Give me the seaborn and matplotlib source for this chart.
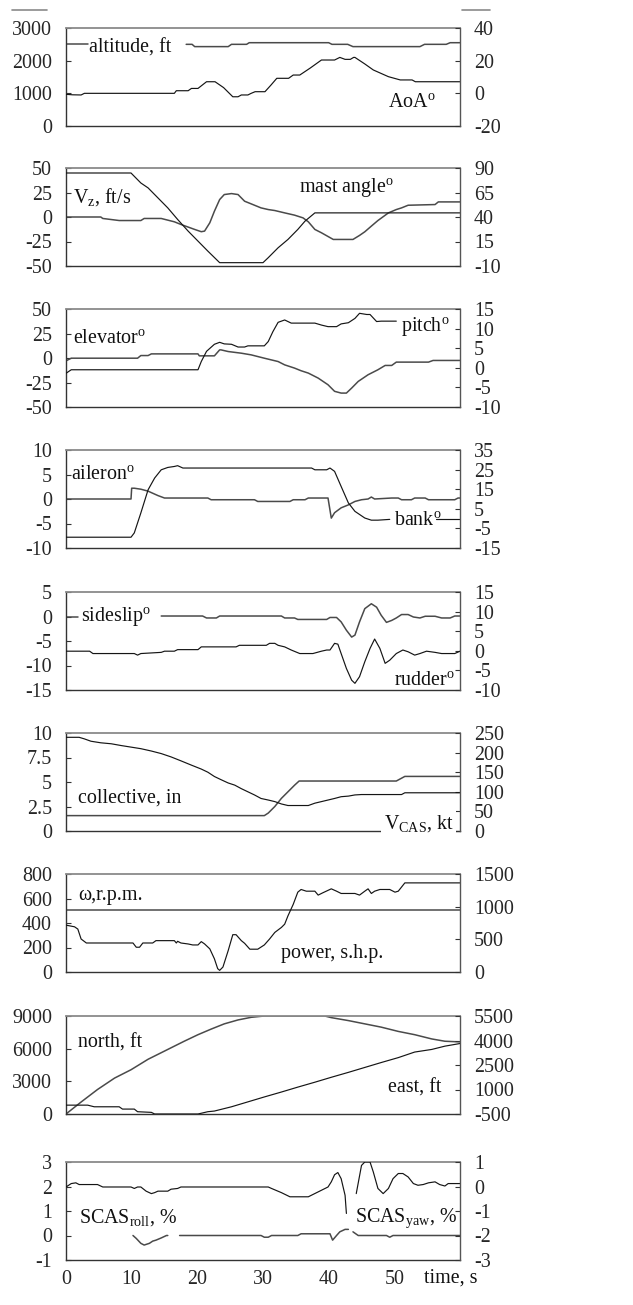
import numpy as np
import pandas as pd
import matplotlib
matplotlib.use("Agg")
import matplotlib.pyplot as plt
import seaborn as sns
from matplotlib.lines import Line2D
from matplotlib.ticker import MultipleLocator, FuncFormatter

nan = np.nan

# ---------------- data (time in s) ----------------
# panel 1
alt_t = [0, 3.3, 3.4, 18.3, 19.2, 19.6, 24.7, 25.2, 27.5, 27.9, 40.0, 40.5, 42.9, 43.7, 53.9, 54.6, 57.9, 58.5, 60]
alt_v = [2500, 2500, nan, 2500, 2500, 2430, 2430, 2500, 2500, 2550, 2550, 2500, 2500, 2430, 2430, 2500, 2500, 2550, 2550]
aoa_t = [0, 1.0, 2.3, 2.8, 16.5, 16.8, 18.6, 19.1, 20.1, 21.4, 22.7, 24.0, 25.4, 26.2, 26.7, 27.7, 28.2, 28.8,
         30.3, 31.2, 32.1, 33.9, 34.6, 35.6, 37.2, 38.9, 40.9, 41.7, 42.5, 43.3, 43.8, 44.0, 45.5, 46.8, 49.1,
         50.9, 52.7, 53.2, 60]
aoa_v = [-0.6, -0.9, -1, 0, 0, 1.6, 1.6, 3, 3, 7.1, 7.1, 3.5, -2.1, -2.1, -1, -1, 0, 1.0,
         1.0, 5, 9.2, 9.2, 11.2, 11.2, 15.5, 20.4, 20.4, 22, 20.8, 20.8, 22, 22, 18, 14.3, 10.2,
         8.2, 8.2, 7.1, 7.1]
# panel 2
vz_t = [0, 5.3, 5.6, 8.1, 11.4, 11.9, 14.5, 16.5, 17.5, 19.6, 20.6, 21.1, 21.9, 22.6, 23.4, 24.1, 25.2, 26.2,
        27.2, 28.2, 29.7, 30.8, 31.8, 33.3, 34.8, 36.1, 36.9, 37.9, 38.9, 40.7, 43.7, 44.7, 45.5, 46.5, 47.5,
        49.1, 50.3, 51.1, 52.1, 56.2, 56.7, 60]
vz_v = [0, 0, -1.5, -3.6, -3.6, -1.5, -1.5, -4.9, -7.6, -12.7, -15, -14.4, -5.9, 5.9, 17.8, 22.9, 23.9, 22.9,
        16.1, 13.4, 9.3, 7.6, 6.6, 4.2, 1.9, -0.9, -4.9, -12.7, -16.1, -22.9, -22.9, -18.8, -15.1, -9.3, -3.6,
        4.2, 7.6, 9.3, 12, 12.7, 15.4, 15.4]
mast_t = [0, 9.9, 10.4, 11.4, 12.5, 14.0, 15.5, 17.0, 18.6, 20.1, 21.6, 23.4, 30.0, 30.8, 32.3, 33.8, 35.3, 36.4, 37.9, 60]
mast_v = [84.9, 84.9, 81.5, 74.7, 69.7, 59.5, 49.3, 37.5, 25.6, 15.4, 5.2, -6.6, -6.6, -1.5, 8.6, 17.1, 27.3, 35.8, 44.2, 44.2]
# panel 3
elev_t = [0, 0.8, 10.9, 11.4, 12.5, 13.0, 20.1, 20.3, 22.6, 23.4, 23.6, 24.7, 26.7, 28.2, 30.2, 32.3, 33.3, 34.8,
          35.8, 36.9, 38.4, 39.9, 40.9, 41.9, 42.7, 43.5, 44.5, 46.0, 47.5, 48.6, 49.6, 50.3, 55.2, 55.9, 60]
elev_v = [-2.9, -0.2, -0.2, 2.5, 2.5, 4.2, 4.2, 2.2, 2.2, 8.3, 8.3, 6.6, 4.9, 3.2, -0.2, -3.6, -7, -10.3,
          -13, -15.4, -20.5, -27.3, -34, -35.8, -35.8, -30.7, -23.9, -17.1, -12, -7.6, -7.6, -4.2, -4.2, -2.5, -2.5]
pitch_t = [0, 0.8, 20.1, 20.6, 21.4, 22.6, 23.4, 24.1, 25.2, 26.2, 27.2, 27.7, 30.2, 30.8, 31.5, 32.3, 33.3, 34.3,
           37.9, 38.9, 39.9, 41.2, 41.9, 43.0, 44.0, 44.7, 45.8, 46.3, 47.3, 48.0, 50.3]
pitch_v = [-1.4, -0.5, -0.5, 1.6, 4.2, 6.0, 6.5, 6.1, 6.0, 5.3, 5.3, 5.6, 5.6, 6.7, 9.2, 11.6, 12.2, 11.4,
           11.4, 10.9, 10.5, 10.5, 11.2, 11.5, 12.6, 13.9, 13.6, 13.6, 11.8, 11.9, 11.9]
# panel 4
ail_t = [0, 9.9, 10.0, 10.4, 11.4, 12.5, 14.0, 15.0, 21.6, 22.1, 28.7, 29.2, 34.1, 34.6, 36.4, 36.9, 39.9, 40.4,
         40.9, 41.9, 43.0, 44.0, 45.0, 46.0, 46.5, 47.0, 49.6, 50.6, 51.1, 52.6, 53.1, 54.7, 55.2, 59.2, 59.7, 60]
ail_v = [0, 0, 2.2, 2.2, 2.0, 1.6, 0.7, 0.2, 0.2, -0.15, -0.15, -0.5, -0.5, -0.15, -0.15, 0.2, 0.2, -3.9,
         -2.8, -1.8, -1.2, -0.5, -0.15, 0, 0.4, 0, 0.2, 0.2, -0.15, -0.15, 0.2, 0.2, -0.15, -0.15, 0.2, 0.2]
bank_t = [0, 9.9, 10.4, 11.4, 12.5, 13.5, 14.5, 15.5, 16.5, 17.0, 17.8, 37.4, 37.9, 39.7, 40.2, 40.9, 41.9, 43.0,
          44.0, 45.5, 46.5, 47.5, 49.3, 52.0, 56.4, 60]
bank_v = [-9.5, -9.5, -7.3, 2.9, 14.7, 20.7, 24.9, 26.1, 26.6, 27.0, 25.8, 25.8, 24.9, 24.9, 25.8, 24.1, 16.4, 8.0,
          3.7, 0.3, -0.8, -0.8, -0.4, nan, -0.2, -0.2]
# panel 5
slip_t = [0, 1.8, 8.0, 14.5, 20.8, 21.4, 22.9, 23.4, 32.8, 33.3, 34.8, 35.3, 39.7, 40.2, 41.2, 41.9, 42.7, 43.5,
          44.0, 44.7, 45.5, 46.5, 47.3, 48.0, 48.8, 49.6, 50.3, 51.1, 52.1, 52.9, 53.9, 54.7, 56.2, 57.2, 58.5, 59.2, 60]
slip_v = [-0.1, -0.1, nan, 0.1, 0.1, -0.3, -0.3, 0.1, 0.1, -0.3, -0.3, -0.6, -0.6, -0.2, -0.2, -1.1, -2.8, -4.2,
          -3.8, -1.1, 1.6, 2.6, 1.9, 0.25, -1.2, -0.8, -0.3, 0.4, 0.4, -0.1, -0.3, 0.05, 0.05, -0.3, -0.3, 0.1, 0.1]
rud_t = [0, 3.6, 4.1, 10.4, 10.9, 11.4, 14.5, 15.0, 16.5, 17.0, 20.1, 20.6, 25.9, 26.4, 30.5, 31.0, 31.8, 32.3,
         33.3, 34.3, 35.6, 37.6, 38.9, 39.7, 40.2, 40.9, 41.4, 41.9, 42.7, 43.5, 44.0, 44.7, 45.5, 46.3, 47.0,
         47.8, 48.6, 49.3, 50.3, 51.3, 52.1, 53.1, 53.9, 54.9, 56.2, 57.2, 59.2, 60]
rud_v = [-0.1, -0.1, -0.7, -0.7, -1.1, -0.7, -0.4, -0.1, -0.1, 0.3, 0.3, 1.0, 1.0, 1.4, 1.4, 1.9, 1.9, 1.4,
         1.0, 0.2, -0.7, -0.7, -0.1, 0.2, 0.2, 1.9, 1.7, -0.7, -4.5, -7.5, -8.3, -6.6, -2.8, 0.6, 3.0,
         0.6, -3.2, -2.4, -0.7, 0.2, -0.25, -1.1, -0.7, -0.1, -0.4, -0.7, -0.7, -0.1]
# panel 6
coll_t = [0, 30.2, 30.8, 31.8, 32.8, 33.8, 34.8, 35.5, 50.3, 51.6, 60]
coll_v = [1.57, 1.57, 1.83, 2.5, 3.33, 4.0, 4.67, 5.1, 5.1, 5.57, 5.57]
vcas_t = [0, 2.0, 2.8, 3.8, 5.3, 6.9, 8.4, 9.9, 11.4, 13.0, 14.5, 16.0, 17.5, 19.1, 20.6, 21.6, 22.6, 23.6, 24.7,
          25.7, 26.7, 27.7, 28.7, 29.7, 30.8, 31.8, 32.8, 33.8, 34.8, 36.9, 37.9, 38.9, 39.9, 40.9, 41.9, 43.0,
          44.0, 45.0, 51.1, 51.6, 60]
vcas_v = [239, 239, 235, 229, 225, 222.5, 218, 214, 210, 204, 197.5, 189, 179, 168, 158, 150, 139, 131, 122.5,
          117, 108, 100, 92, 83, 79, 75, 69, 65, 65, 65, 71, 75, 79, 83, 87.5, 89,
          92, 93, 93, 97.5, 97.5]
# panel 7
omega_t = [0, 60]
omega_v = [510, 510]
pow_t = [0, 1.3, 1.8, 2.3, 3.1, 10.2, 10.7, 11.2, 11.7, 13.2, 13.7, 16.5, 16.8, 17.0, 17.5, 18.6, 19.3, 20.1, 20.6,
         21.1, 21.9, 22.6, 23.1, 23.4, 23.9, 24.7, 25.4, 25.9, 26.7, 27.2, 28.0, 29.2, 30.2, 31.0, 31.8, 32.8,
         33.3, 33.8, 34.6, 35.3, 35.8, 36.6, 37.9, 38.4, 39.1, 40.4, 41.2, 41.9, 44.0, 44.7, 45.5, 46.0, 46.5,
         47.0, 47.8, 49.3, 50.1, 50.6, 51.6, 60]
pow_v = [717, 692, 657, 505, 444, 444, 379, 379, 444, 444, 480, 480, 444, 470, 444, 429, 414, 414, 465,
         430, 354, 202, 51, 25, 76, 328, 571, 571, 480, 439, 349, 349, 414, 505, 606, 682,
         732, 859, 1035, 1222, 1263, 1237, 1237, 1177, 1212, 1273, 1237, 1202, 1202, 1177, 1237, 1273, 1202,
         1237, 1263, 1263, 1222, 1237, 1364, 1364]
# panel 8
north_t = [0, 2.3, 4.8, 7.4, 9.9, 12.5, 15.0, 16.5, 18.0, 20.1, 22.1, 24.1, 26.2, 28.2, 30.2, 39.4, 40.4, 43.0,
           45.5, 48.0, 50.6, 53.1, 55.7, 57.7, 60]
north_v = [0, 1100, 2250, 3300, 4064, 5027, 5779, 6231, 6682, 7284, 7796, 8278, 8639, 8880, 9000, 9000, 8850, 8579,
           8278, 7977, 7585, 7284, 6893, 6682, 6622]
east_t = [0, 3.3, 4.3, 8.1, 8.6, 10.4, 10.9, 13.0, 13.5, 20.1, 21.6, 22.6, 25.2, 27.7, 30.2, 32.8, 35.3, 37.9,
          40.4, 43.0, 45.5, 48.0, 50.6, 53.1, 55.7, 57.7, 60]
east_v = [42, 42, -58, -58, -199, -199, -360, -400, -500, -500, -360, -319, -58, 243, 544, 845, 1146, 1447,
          1748, 2049, 2350, 2651, 2952, 3293, 3453, 3654, 3815]
# panel 9
roll_t = [10.2, 10.7, 11.4, 11.9, 12.7, 13.2, 13.7, 14.5, 15.3, 15.5, 16.4, 17.3, 29.7, 30.2, 30.8, 31.3, 35.3,
          35.8, 40.2, 40.6, 41.2, 41.7, 42.5, 43.0, 43.4, 43.7, 44.5, 48.8, 49.3, 49.8, 60]
roll_v = [0, -0.12, -0.32, -0.39, -0.32, -0.23, -0.19, -0.1, 0, 0, nan, 0, 0, -0.07, -0.07, 0, 0,
          0.07, 0.07, -0.19, 0, 0.15, 0.25, 0.25, nan, 0.15, 0, 0, -0.07, 0, 0]
yaw_t = [0, 0.8, 1.5, 2.0, 4.8, 5.6, 9.9, 10.4, 10.9, 11.4, 12.2, 13.0, 13.5, 14.0, 15.5, 16.0, 17.0, 17.5,
         30.8, 31.3, 32.8, 34.1, 36.9, 38.4, 39.9, 40.4, 40.9, 41.4, 41.9, 42.5, 42.7, 43.5, 44.2, 45.0, 45.5,
         46.3, 46.8, 47.5, 48.3, 49.1, 49.8, 50.6, 51.3, 52.1, 52.9, 53.6, 54.4, 55.2, 56.2, 56.9, 57.7, 58.2, 60]
yaw_v = [-0.02, 0.12, 0.15, 0.08, 0.08, -0.02, -0.02, -0.08, -0.02, -0.02, -0.19, -0.29, -0.25, -0.19, -0.19,
         -0.11, -0.08, -0.02, -0.02, -0.08, -0.25, -0.42, -0.42, -0.22, -0.02, 0.19, 0.48, 0.57, 0.32, -0.36,
         -1.1, nan, -0.29, 0.86, 1.0, 1.0, 0.59, -0.08, -0.29, -0.08, 0.32, 0.53, 0.53, 0.39, 0.12, 0.05, 0.08,
         0.15, 0.19, 0.08, 0.02, 0.12, 0.12]

# axis ranges / ticks
left_ticks = [[0, 1000, 2000, 3000], [-50, -25, 0, 25, 50], [-50, -25, 0, 25, 50], [-10, -5, 0, 5, 10],
              [-15, -10, -5, 0, 5], [0, 2.5, 5, 7.5, 10], [0, 200, 400, 600, 800], [0, 3000, 6000, 9000],
              [-1, 0, 1, 2, 3]]
right_ticks = [[-20, 0, 20, 40], [-10, 15, 40, 65, 90], [-10, -5, 0, 5, 10, 15], [-15, -5, 5, 15, 25, 35],
               [-10, -5, 0, 5, 10, 15], [0, 50, 100, 150, 200, 250], [0, 500, 1000, 1500],
               [-500, 1000, 2500, 4000, 5500], [-3, -2, -1, 0, 1]]
x_ticks = [0, 10, 20, 30, 40, 50, 60]
x_labels = ["0", "10", "20", "30", "40", "50", ""]

panels = [
    (alt_t, alt_v, aoa_t, aoa_v),
    (vz_t, vz_v, mast_t, mast_v),
    (elev_t, elev_v, pitch_t, pitch_v),
    (ail_t, ail_v, bank_t, bank_v),
    (slip_t, slip_v, rud_t, rud_v),
    (coll_t, coll_v, vcas_t, vcas_v),
    (omega_t, omega_v, pow_t, pow_v),
    (north_t, north_v, east_t, east_v),
    (roll_t, roll_v, yaw_t, yaw_v),
]

# labels: (text, t, axes-y, ha, white box)
labels = [
    [("altitude, ft", 3.5, 0.80, False), (r"AoA$^\mathrm{o}$", 49.0, 0.235, False)],
    [(r"V$_\mathrm{z}$, ft/s", 1.0, 0.70, False), (r"mast angle$^\mathrm{o}$", 35.5, 0.80, False)],
    [(r"elevator$^\mathrm{o}$", 1.0, 0.70, False), (r"pitch$^\mathrm{o}$", 51.0, 0.82, False)],
    [(r"aileron$^\mathrm{o}$", 0.8, 0.745, False), (r"bank$^\mathrm{o}$", 50.0, 0.285, False)],
    [(r"sideslip$^\mathrm{o}$", 2.3, 0.745, False), (r"rudder$^\mathrm{o}$", 50.0, 0.10, False)],
    [("collective, in", 1.8, 0.335, False), (r"V$_\mathrm{CAS}$, kt", 48.4, 0.08, True)],
    [(r"ω,r.p.m.", 1.8, 0.785, False), ("power, s.h.p.", 32.7, 0.19, False)],
    [("north, ft", 1.8, 0.72, False), ("east, ft", 49.0, 0.26, False)],
    [(r"SCAS$_\mathrm{roll}$, %", 2.0, 0.43, False), (r"SCAS$_\mathrm{yaw}$, %", 44.0, 0.43, False)],
]

# ---------------- style ----------------
sns.set_style("white")
plt.rcParams["font.family"] = ["Liberation Serif", "DejaVu Serif"]
plt.rcParams["mathtext.fontset"] = "custom"
plt.rcParams["mathtext.rm"] = "Liberation Serif"
plt.rcParams["mathtext.it"] = "Liberation Serif:italic"
plt.rcParams["mathtext.bf"] = "Liberation Serif:bold"
plt.rcParams["axes.unicode_minus"] = False

FS = 14.4
W, H = 633, 1305
fig = plt.figure(figsize=(W / 100, H / 100), dpi=100)
fig.patch.set_facecolor("white")

tops = [28, 168, 309, 450, 592, 733, 874, 1016, 1162]
ph = 98
xl, xr = 66, 460
fmt = FuncFormatter(lambda v, p: f"{v:g}")

LCOL, RCOL = "#4a4a4a", "#151515"
SPC = "#333333"


def seg_frame(t, v):
    t = np.asarray(t, float)
    v = np.asarray(v, float)
    seg = np.cumsum(np.isnan(v))
    df = pd.DataFrame({"t": t, "v": v, "seg": seg})
    return df.dropna()


def draw(ax, t, v, color, lw):
    df = seg_frame(t, v)
    sns.lineplot(data=df, x="t", y="v", units="seg", estimator=None, sort=False,
                 color=color, lw=lw, ax=ax, legend=False)
    ax.set_xlabel("")
    ax.set_ylabel("")


for i, (lt, lv, rt, rv) in enumerate(panels):
    ax = fig.add_axes([xl / W, 1 - (tops[i] + ph) / H, (xr - xl) / W, ph / H])
    ax2 = ax.twinx()
    draw(ax, lt, lv, LCOL, 1.1)
    draw(ax2, rt, rv, RCOL, 0.85)

    ax.set_xlim(0, 60)
    ax.set_ylim(left_ticks[i][0], left_ticks[i][-1])
    ax2.set_ylim(right_ticks[i][0], right_ticks[i][-1])
    ax.set_yticks(left_ticks[i])
    ax2.set_yticks(right_ticks[i])
    ax.yaxis.set_major_formatter(fmt)
    ax2.yaxis.set_major_formatter(fmt)
    ax.set_xticks(x_ticks)
    ax.xaxis.set_minor_locator(MultipleLocator(5))
    if i == len(panels) - 1:
        ax.set_xticklabels(x_labels)
    else:
        ax.set_xticklabels([])

    ax.tick_params(axis="y", direction="in", length=3.5, width=0.8, color=SPC, pad=10, labelsize=FS)
    ax2.tick_params(axis="y", direction="in", length=3.5, width=0.8, color=SPC, pad=10, labelsize=FS)
    ax.tick_params(axis="x", which="both", direction="in", length=4, width=0.8, color=SPC,
                   pad=7, labelsize=FS, top=False)

    for s in ["left", "bottom"]:
        ax.spines[s].set_color(SPC)
        ax.spines[s].set_linewidth(1.0)
    ax.spines["top"].set_color("#8a8a8a")
    ax.spines["top"].set_linewidth(1.3)
    ax.spines["right"].set_visible(False)
    for s in ["left", "bottom", "top"]:
        ax2.spines[s].set_visible(False)
    ax2.spines["right"].set_color("#555555")
    ax2.spines["right"].set_linewidth(1.0)
    ax.set_facecolor("white")
    ax.grid(False)
    ax2.grid(False)

    for (txt, tx, ty, box) in labels[i]:
        kw = {}
        if box:
            kw["bbox"] = dict(facecolor="white", edgecolor="none", pad=2.0)
        ax2.text(tx, ty, txt, transform=ax2.get_xaxis_transform(), fontsize=FS,
                 ha="left", va="center", color="#111111", zorder=10, **kw)

    if i == len(panels) - 1:
        ax.text(58.6, -0.085, "time, s", transform=ax.get_xaxis_transform(), fontsize=FS,
                ha="center", va="top", color="#111111")

# small overline marks at the very top
for x0, x1 in [(12, 47), (462, 490)]:
    fig.add_artist(Line2D([x0 / W, x1 / W], [1 - 10 / H, 1 - 10 / H], color="#8a8a8a", lw=1.2))

fig.savefig("out.png", dpi=100, facecolor="white")
